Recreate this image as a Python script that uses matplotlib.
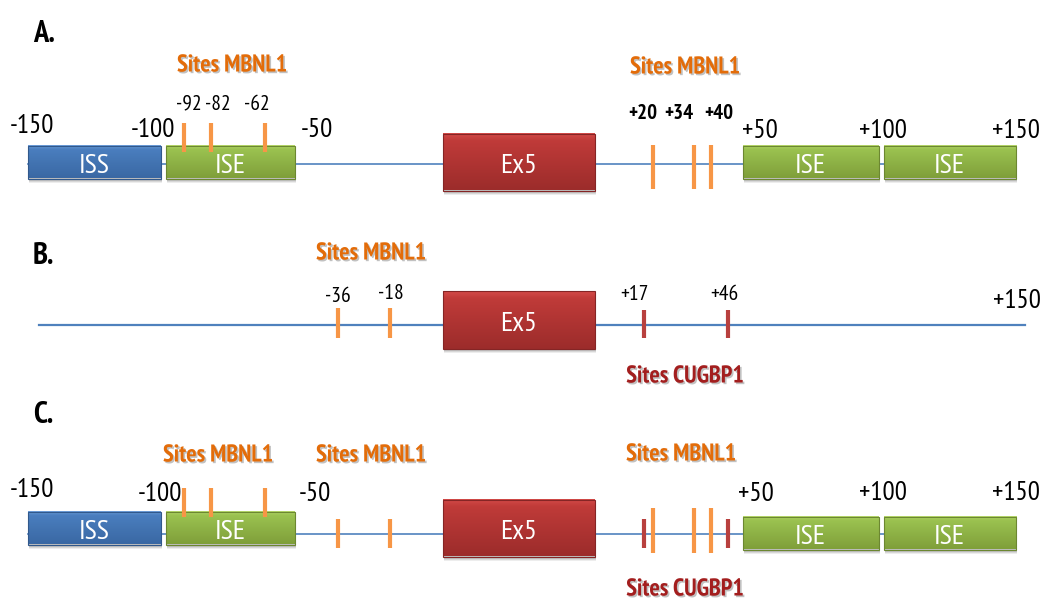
import numpy as np
import matplotlib
matplotlib.use("Agg")
import matplotlib.pyplot as plt
from matplotlib.patches import Rectangle
import matplotlib.patheffects as pe

# ---------------- data ----------------
panel_labels = ["A.", "B.", "C."]
region_starts = [-150, -100, 50, 100]
region_ends = [-100, -50, 100, 150]
region_names = ["ISS", "ISE", "ISE", "ISE"]
coord_positions = [-150, -100, -50, 50, 100, 150]
coord_labels = ["-150", "-100", "-50", "+50", "+100", "+150"]
mbnl1_ise_sites = [-92, -82, -62]
mbnl1_up_sites = [-36, -18]
mbnl1_down_sites = [20, 34, 40]
cugbp1_sites = [17, 46]
exon_name = "Ex5"
site_title_mbnl1 = "Sites MBNL1"
site_title_cugbp1 = "Sites CUGBP1"

# ---------------- layout (schematic scale: nt -> px) ----------------
UP_NT = [-150, -100, -50, 0]
UP_PX = [28, 163, 297, 443]
DN_NT = [0, 50, 100, 150]
DN_PX = [595, 740, 881, 1016]


def gx(p, side=None):
    if side == "up" or (side is None and p < 0):
        return float(np.interp(p, UP_NT, UP_PX))
    return float(np.interp(p, DN_NT, DN_PX))


FONT = ["PT Sans Narrow", "Carlito", "DejaVu Sans"]
CAP = 0.70
ORANGE_TICK = "#f79646"
RED_TICK = "#b8403e"
ORANGE_TXT = "#e36c09"
RED_TXT = "#a31e1e"
LINE_C = "#4f81bd"

fig = plt.figure(figsize=(10.48, 6.01), dpi=100)
ax = fig.add_axes([0, 0, 1, 1])
ax.set_xlim(0, 1048)
ax.set_ylim(601, 0)
ax.axis("off")

shadow = [pe.withSimplePatchShadow(offset=(1.2, -1.2), shadow_rgbFace="#777777", alpha=0.45)]

GRADS = {
    "ISS": ("#6f9fdb", "#4a7ebf", "#3a68a3"),
    "ISE": ("#b7d86c", "#9bc250", "#7f9f3a"),
    "Ex5": ("#d44a48", "#c03b39", "#9c2c2b"),
}


def put(x, yc, s, size, color="black", weight="normal", effects=None, z=7, ha="center"):
    # place text so that the cap-height centre sits at yc
    base = yc + CAP / 2 * size * 100 / 72
    ax.text(x, base, s, color=color, fontsize=size, fontweight=weight, family=FONT,
            ha=ha, va="baseline", path_effects=effects, zorder=z)


def gradient_box(x0, x1, yc, h, kind, label):
    y0, y1 = yc - h / 2, yc + h / 2
    top, mid, bot = [np.array(matplotlib.colors.to_rgb(c)) for c in GRADS[kind]]
    n = 64
    t = np.linspace(0, 1, n)
    cols = np.empty((n, 1, 3))
    for i, v in enumerate(t):
        if v < 0.12:
            cols[i, 0] = top + (mid - top) * (v / 0.12)
        else:
            cols[i, 0] = mid + (bot - mid) * ((v - 0.12) / 0.88)
    for k, a in enumerate([0.10, 0.14, 0.18]):
        off = 4 - k
        ax.add_patch(Rectangle((x0 + 1, y0 + off), x1 - x0, h, facecolor="#555555",
                               edgecolor="none", alpha=a, zorder=2))
    ax.imshow(cols, extent=(x0, x1, y1, y0), aspect="auto", interpolation="bilinear",
              origin="upper", zorder=3)
    ax.add_patch(Rectangle((x0, y0), x1 - x0, h, facecolor="none",
                           edgecolor=tuple(bot * 0.85), linewidth=0.8, zorder=4))
    put((x0 + x1) / 2, yc + 1.5, label, 20.5, color="white", z=5)


def tick(x, ya, yb, color):
    ax.plot([x, x], [ya, yb], color=color, linewidth=3.0, solid_capstyle="butt", zorder=6)


def sites_text(x, y, s, color):
    put(x, y, s, 17.5, color=color, weight="bold", effects=shadow)


def panel_letter(y, s):
    put(33, y, s, 22, weight="bold", ha="left")


def regions(yc, down_shift=0):
    for s, e, n in zip(region_starts, region_ends, region_names):
        side = "up" if s < 0 else "dn"
        x0, x1 = gx(s, side) + 2.5, gx(e, side) - 2.5
        if s == -150:
            x0 -= 2.5
        if e == 150:
            x1 += 2.5
        yy = yc if s < 0 else yc + down_shift
        gradient_box(x0, x1, yy, 33, n, n)


coord_dx_A = [4, -10, 20, 20, 2, 0]
coord_dx_C = [4, -3, 18, 16, 2, 0]
coord_y_A = [124, 128, 128, 129, 129, 129]
coord_y_C = [488, 492, 492, 492, 491, 491]

# ---------------- Panel A ----------------
yA, lineA = 162, 164
panel_letter(31, panel_labels[0])
ax.plot([gx(-150), gx(150)], [lineA, lineA], color=LINE_C, lw=1.2, zorder=1)
regions(yA)
gradient_box(gx(0, "up"), gx(0, "dn"), yA, 57, "Ex5", exon_name)
for p in mbnl1_ise_sites:
    tick(gx(p), 123, 152, ORANGE_TICK)
for p in mbnl1_down_sites:
    tick(gx(p), 145, 189, ORANGE_TICK)
for p, dx in zip(mbnl1_ise_sites, [4, 7, -8]):
    put(gx(p) + dx, 102, str(p), 15.5)
for p, dx in zip(mbnl1_down_sites, [-10, -15, 8]):
    put(gx(p) + dx, 112, "+%d" % p, 15, weight="bold")
for p, s, dx, yy in zip(coord_positions, coord_labels, coord_dx_A, coord_y_A):
    put(gx(p) + dx, yy, s, 19.5)
sites_text(232, 63, site_title_mbnl1, ORANGE_TXT)
sites_text(685, 65, site_title_mbnl1, ORANGE_TXT)

# ---------------- Panel B ----------------
yB, lineB = 320, 325
panel_letter(253, panel_labels[1])
ax.plot([39, 1025], [lineB, lineB], color=LINE_C, lw=1.6, zorder=1)
gradient_box(gx(0, "up"), gx(0, "dn"), yB, 58, "Ex5", exon_name)
for p, yy in zip(mbnl1_up_sites, [294, 291]):
    tick(gx(p), 308, 338, ORANGE_TICK)
    put(gx(p), yy, str(p), 15.5)
for p, dx in zip(cugbp1_sites, [-10, -4]):
    tick(gx(p), 310, 338, RED_TICK)
    put(gx(p) + dx, 292, "+%d" % p, 15.5)
put(1017, 299, "+150", 19.5)
sites_text(371, 251, site_title_mbnl1, ORANGE_TXT)
sites_text(685, 374, site_title_cugbp1, RED_TXT)

# ---------------- Panel C ----------------
yC, lineC = 528, 534
panel_letter(412, panel_labels[2])
ax.plot([gx(-150), gx(150)], [lineC, lineC], color=LINE_C, lw=1.2, zorder=1)
regions(yC, down_shift=5)
gradient_box(gx(0, "up"), gx(0, "dn"), yC, 57, "Ex5", exon_name)
for p in mbnl1_ise_sites:
    tick(gx(p), 488, 517, ORANGE_TICK)
for p in mbnl1_up_sites:
    tick(gx(p), 519, 548, ORANGE_TICK)
for p in mbnl1_down_sites:
    tick(gx(p), 508, 553, ORANGE_TICK)
for p in cugbp1_sites:
    tick(gx(p), 519, 548, RED_TICK)
for p, s, dx, yy in zip(coord_positions, coord_labels, coord_dx_C, coord_y_C):
    put(gx(p) + dx, yy, s, 19.5)
sites_text(218, 453, site_title_mbnl1, ORANGE_TXT)
sites_text(371, 453, site_title_mbnl1, ORANGE_TXT)
sites_text(681, 452, site_title_mbnl1, ORANGE_TXT)
sites_text(685, 587, site_title_cugbp1, RED_TXT)

ax.set_xlim(0, 1048)
ax.set_ylim(601, 0)
fig.savefig("out.png", dpi=100, facecolor="white")
